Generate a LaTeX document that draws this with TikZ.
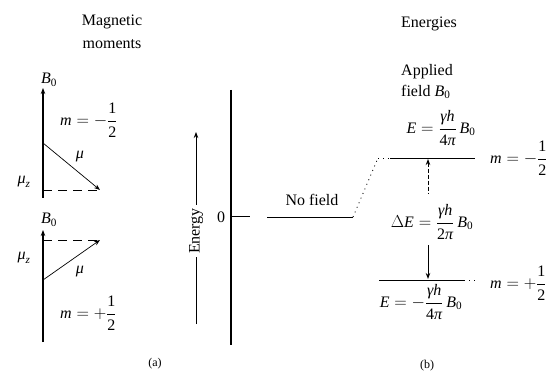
\documentclass[tikz,border=0pt]{standalone}
\usepackage{amsmath}
\usepackage{fontspec}
\setmainfont{Liberation Serif}
\usetikzlibrary{arrows.meta}
\newcommand\ti[1]{\text{\itshape #1}}
\begin{document}
\begin{tikzpicture}[x=1pt,y=-1pt,
  lbl/.style={font=\fontsize{16}{18}\selectfont, inner sep=0pt},
  axis/.style={line width=1.4pt},
  arr/.style={-{Stealth[length=6pt,width=4.5pt]}},
  rarr/.style={{Stealth[length=6pt,width=4.5pt]}-},
  longdash/.style={dash pattern=on 9pt off 6pt, line width=0.9pt},
  level/.style={line width=0.9pt},
  dots/.style={dash pattern=on 1pt off 4pt, line width=0.8pt}]
\useasboundingbox (0,0) rectangle (548,379);

% ---------- (a) magnetic moments ----------
\node[lbl] (t1) at (112,22) {Magnetic};
\node[lbl] (t2) at (112,44) {moments};

% upper diagram, m = -1/2
\node[lbl] (b1) at (49,80) {$\ti{B}_{\text{0}}$};
\coordinate (a1b) at (43,198);
\coordinate (a1t) at (43,88);
\draw[axis,arr] (a1b) -- (a1t);
\node[lbl,anchor=west] (m1) at (60,120) {$\ti{m} = -\dfrac{\text{1}}{\text{2}}$};
\coordinate (o1) at (43,143);
\coordinate (p1) at (100,190);
\coordinate (z1) at (43,190);
\draw[line width=0.7pt,arr] (o1) -- (p1);
\draw[longdash] (z1) -- (p1);
\node[lbl] (mu1) at (80,157) {$\ti{μ}$};
\node[lbl] (mz1) at (24,182) {$\ti{μ}_{\ti{z}}$};

% lower diagram, m = +1/2
\node[lbl] (b2) at (49,220) {$\ti{B}_{\text{0}}$};
\coordinate (a2b) at (43,342);
\coordinate (a2t) at (43,230);
\draw[axis,arr] (a2b) -- (a2t);
\coordinate (o2) at (43,280);
\coordinate (p2) at (100,240);
\coordinate (z2) at (43,240);
\draw[line width=0.7pt,arr] (o2) -- (p2);
\draw[longdash] (z2) -- (p2);
\node[lbl] (mu2) at (80,272) {$\ti{μ}$};
\node[lbl] (mz2) at (24,258) {$\ti{μ}_{\ti{z}}$};
\node[lbl,anchor=west] (m2) at (60,313) {$\ti{m} = +\dfrac{\text{1}}{\text{2}}$};

\node[lbl,font=\fontsize{12}{14}\selectfont] (la) at (155,364) {(a)};

% ---------- energy axis ----------
\node[lbl,rotate=90,inner sep=3pt] (en) at (196,231) {Energy};
\coordinate (eb) at (196,324);
\coordinate (et) at (196,132);
\draw[line width=0.9pt] (eb) -- (en.west);
\draw[line width=0.9pt,arr] (en.east) -- (et);

\coordinate (ax1) at (231,90);
\coordinate (ax2) at (231,345);
\draw[line width=1.2pt] (ax1) -- (ax2);
\coordinate (th1) at (231,195);
\coordinate (th2) at (231,242);
\draw[line width=2.2pt] (th1) -- (th2);
\node[lbl] (zero) at (221,217) {0};
\coordinate (tk0) at (231,217);
\coordinate (tk) at (250,217);
\draw[line width=1pt] (tk0) -- (tk);

% ---------- (b) energies ----------
\coordinate (nf1) at (267,217);
\coordinate (nf2) at (353,217);
\draw[level] (nf1) -- (nf2);
\node[lbl] (nf) at (312,200) {No field};

\node[lbl,anchor=west] (t3) at (401,24) {Energies};
\node[lbl,anchor=west] (t4) at (401,72) {Applied};
\node[lbl,anchor=west] (t5) at (401,92) {field $\ti{B}_{\text{0}}$};

% upper level
\coordinate (u0) at (378,158);
\coordinate (u1) at (390,158);
\coordinate (u2) at (475,158);
\draw[dots] (nf2) -- (u0);
\draw[dots] (u0) -- (u1);
\draw[level] (u1) -- (u2);
\node[lbl] (eu) at (441,128) {$\ti{E} = \dfrac{\ti{γh}}{\text{4}\ti{π}}\,\ti{B}_{\text{0}}$};
\node[lbl,anchor=west] (mu) at (490,158) {$\ti{m} = -\dfrac{\text{1}}{\text{2}}$};

% lower level
\coordinate (l1) at (379,280);
\coordinate (l2) at (464,280);
\coordinate (l3) at (478,280);
\draw[level] (l1) -- (l2);
\draw[dots] (l2) -- (l3);
\node[lbl] (el) at (421,302) {$\ti{E} = -\dfrac{\ti{γh}}{\text{4}\ti{π}}\,\ti{B}_{\text{0}}$};
\node[lbl,anchor=west] (ml) at (490,283) {$\ti{m} = +\dfrac{\text{1}}{\text{2}}$};

% splitting
\node[lbl] (de) at (432,222) {$\Delta\ti{E} = \dfrac{\ti{γh}}{\text{2}\ti{π}}\,\ti{B}_{\text{0}}$};
\coordinate (s1) at (428,159);
\coordinate (s2) at (428,194);
\coordinate (s3) at (428,245);
\coordinate (s4) at (428,279);
\draw[dash pattern=on 4pt off 2pt,line width=1pt,rarr] (s1) -- (s2);
\draw[line width=1pt,arr] (s3) -- (s4);

\node[lbl,font=\fontsize{12}{14}\selectfont] (lb) at (427,366) {(b)};
\end{tikzpicture}
\end{document}
